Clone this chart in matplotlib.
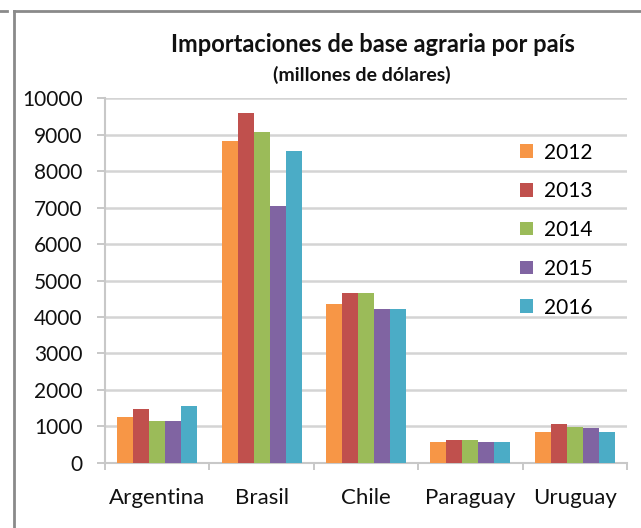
import matplotlib
matplotlib.use("Agg")
import matplotlib.pyplot as plt
import numpy as np
from matplotlib.lines import Line2D

paises = ["Argentina", "Brasil", "Chile", "Paraguay", "Uruguay"]
anios = ["2012", "2013", "2014", "2015", "2016"]
v2012 = [1245, 8830, 4355, 580, 835]
v2013 = [1465, 9605, 4665, 620, 1050]
v2014 = [1150, 9085, 4665, 620, 990]
v2015 = [1150, 7045, 4210, 580, 945]
v2016 = [1565, 8565, 4210, 580, 835]
series = [v2012, v2013, v2014, v2015, v2016]
colores = ["#F79646", "#C0504D", "#9BBB59", "#8064A2", "#4BACC6"]

plt.rcParams["font.family"] = ["Lato", "DejaVu Sans"]

fig = plt.figure(figsize=(6.41, 5.28), dpi=100)
ax = fig.add_axes([105 / 641, 1 - 462.7 / 528, 522 / 641, 364.4 / 528])

x = np.arange(len(paises))
ancho = 0.153
for i, (vals, c, a) in enumerate(zip(series, colores, anios)):
    ax.bar(x + (i - 2) * ancho, vals, ancho, color=c, label=a, zorder=3)

ax.set_xlim(-0.5, 4.5)
ax.set_ylim(0, 10000)
ax.set_yticks(np.arange(0, 10001, 1000))
ax.tick_params(axis="y", labelsize=15, length=6, color="#bfbfbf", width=1.2,
               labelcolor="#111111", pad=10)
ax.set_xticks(x)
ax.set_xticklabels(paises)
ax.tick_params(axis="x", which="major", length=0, labelsize=16, pad=18,
               labelcolor="#111111")
ax.set_xticks(np.arange(-0.5, 5.0, 1.0), minor=True)
ax.tick_params(axis="x", which="minor", length=5, color="#bfbfbf", width=1.2)

ax.grid(axis="y", color="#d4d4d4", linewidth=1.8, zorder=0)
for s in ["top", "right"]:
    ax.spines[s].set_visible(False)
for s in ["left", "bottom"]:
    ax.spines[s].set_color("#c8c8c8")
    ax.spines[s].set_linewidth(1.5)

leg = ax.legend(loc="upper left", bbox_to_anchor=(0.76, 0.93), frameon=False,
                fontsize=15, handlelength=0.62, handleheight=0.62,
                handletextpad=0.5, labelspacing=0.9)

fig.text(373 / 641, 1 - 45 / 528, "Importaciones de base agraria por país",
         ha="center", va="center", fontsize=17, fontweight="bold", color="#111111")
fig.text(362 / 641, 1 - 75 / 528, "(millones de dólares)",
         ha="center", va="center", fontsize=14, fontweight="bold", color="#111111")

# marco exterior
fig.add_artist(Line2D([14 / 641, 14 / 641], [0, 1 - 11 / 528], color="#8a8a8a", lw=2))
fig.add_artist(Line2D([14 / 641, 1], [1 - 11 / 528, 1 - 11 / 528], color="#8a8a8a", lw=2))
fig.add_artist(Line2D([0, 7 / 641], [1 - 11 / 528, 1 - 11 / 528], color="#8a8a8a", lw=2))

fig.savefig("out.png", dpi=100)
